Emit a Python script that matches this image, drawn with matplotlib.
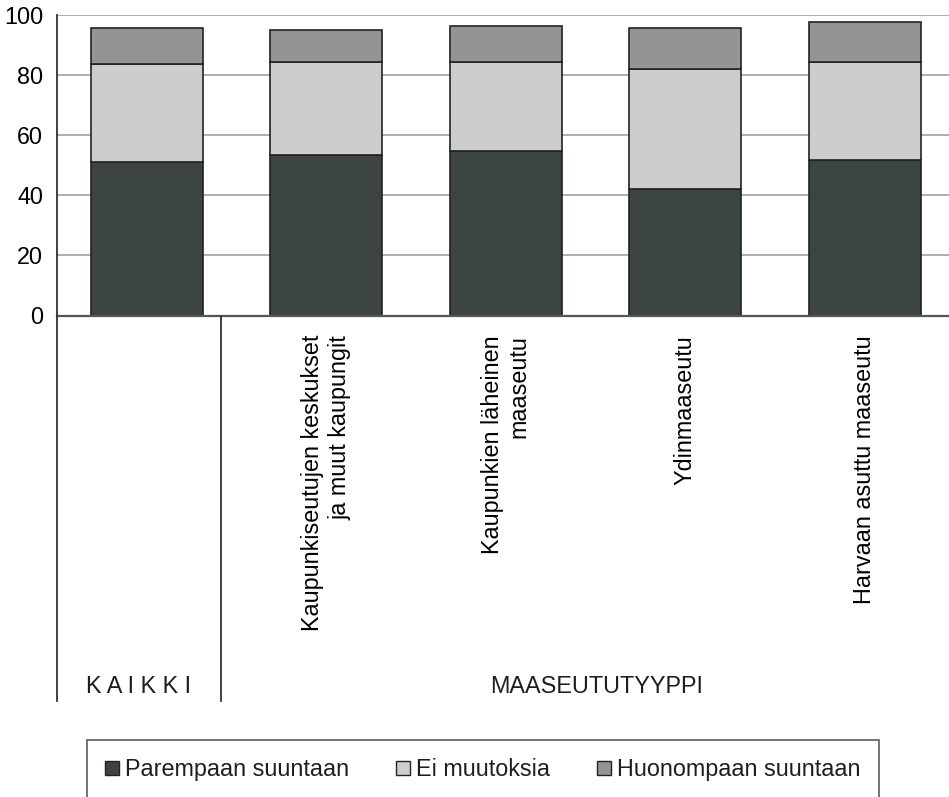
import numpy as np
import matplotlib
matplotlib.use("Agg")
import matplotlib.pyplot as plt
from matplotlib.patches import Patch

plt.rcParams['font.family'] = ['Liberation Sans', 'DejaVu Sans']
plt.rcParams['font.size'] = 16.8
plt.rcParams['text.color'] = '#1e1e1e'

# data (percent)
categories = ["", "Kaupunkiseutujen keskukset\nja muut kaupungit",
              "Kaupunkien läheinen\nmaaseutu", "Ydinmaaseutu",
              "Harvaan asuttu maaseutu"]
better = [51.1, 53.5, 54.7, 42.1, 51.7]
no_change = [32.7, 30.9, 29.7, 39.8, 32.7]
worse = [11.9, 10.7, 11.9, 13.8, 13.2]
series_names = ["Parempaan suuntaan", "Ei muutoksia", "Huonompaan suuntaan"]
colors = ["#3d4544", "#cdcdcd", "#939495"]
yticks = [0, 20, 40, 60, 80, 100]

fig = plt.figure(figsize=(9.49, 7.97), dpi=100)
ax = fig.add_axes([57/949, 1-315.5/797, 1-57/949, (315.5-15)/797])

x = np.arange(len(categories))
bottom = np.zeros(len(x))
for vals, c, name in zip([better, no_change, worse], colors, series_names):
    ax.bar(x, vals, bottom=bottom, width=0.625, color=c, edgecolor='#222222',
           linewidth=1.2, label=name, zorder=3)
    bottom += np.array(vals)

ax.set_ylim(0, 100)
ax.set_xlim(-0.5, 4.47)
ax.set_yticks(yticks)
ax.yaxis.grid(True, color='#9a9a9a', linewidth=1.1)
ax.set_axisbelow(True)
for s in ['top', 'right', 'left']:
    ax.spines[s].set_visible(False)
ax.spines['bottom'].set_color('#555555')
ax.spines['bottom'].set_linewidth(1.6)
ax.spines['bottom'].set_zorder(4)
ax.tick_params(axis='both', length=0)
ax.tick_params(axis='y', pad=10)
ax.set_xticks(x)
ax.set_xticklabels(categories, rotation=90, va='top', ha='center',
                   multialignment='right')
ax.tick_params(axis='x', pad=14)

# left axis line and separator reaching down to the group labels
trans = ax.get_xaxis_transform()
ax.plot([-0.5, -0.5], [1, -1.283], transform=trans, color='#333333',
        linewidth=1.3, clip_on=False, zorder=5)
ax.plot([0.412, 0.412], [0, -1.283], transform=trans, color='#333333',
        linewidth=1.3, clip_on=False, zorder=5)

ax.text(-0.044, -1.236, "K A I K K I", transform=trans, ha='center',
        va='center')
ax.text(2.507, -1.236, "MAASEUTUTYYPPI", transform=trans, ha='center',
        va='center')

handles = [Patch(facecolor=c, edgecolor='#222222', linewidth=1.0) for c in colors]
leg = fig.legend(handles, series_names, ncol=3, mode='expand',
                 loc='upper left',
                 bbox_to_anchor=(87/949, 0, (879-87)/949, 1-740/797),
                 borderaxespad=0, fancybox=False, frameon=True,
                 handlelength=0.6, handleheight=0.6, handletextpad=0.25,
                 borderpad=0.78, fontsize=16.8)
leg.get_frame().set_edgecolor('#333333')
leg.get_frame().set_linewidth(1.2)

fig.savefig("out.png", dpi=100)
